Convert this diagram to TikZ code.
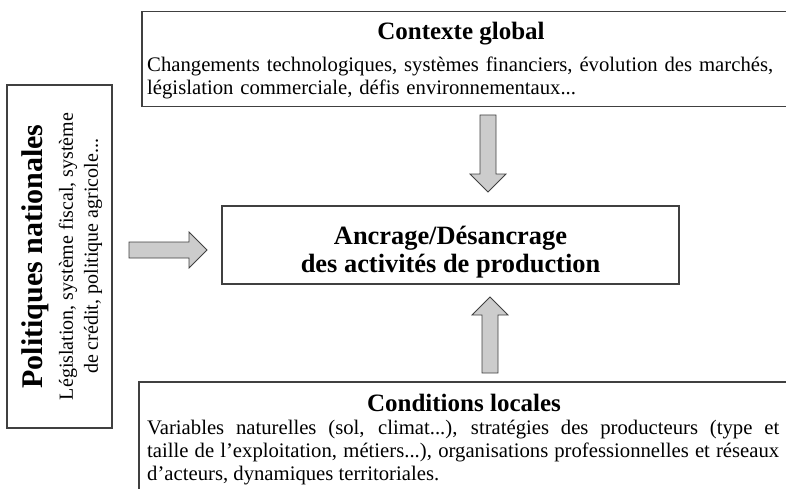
\documentclass[tikz,border=0pt]{standalone}
\usepackage{fontspec}
\setmainfont{Liberation Serif}
\usetikzlibrary{positioning,calc}

\begin{document}
\begin{tikzpicture}[x=1pt,y=-1pt,frame/.style={draw=black!75,line width=1.5pt,inner sep=0pt},titre/.style={font=\fontsize{25}{28}\selectfont\bfseries,inner sep=0pt},texte/.style={font=\fontsize{20.7}{23}\selectfont,inner sep=0pt},fleche/.style={fill=black!20,draw=black!75,line width=0.8pt,to path={($(\tikztotarget)!\al!(\tikztostart)$) coordinate (fh) ($(\tikztostart)!\aw!90:(\tikztotarget)$) -- ($(fh)!\aw!-90:(\tikztostart)$) -- ($(fh)!\ah!-90:(\tikztostart)$) -- (\tikztotarget) -- ($(fh)!\ah!90:(\tikztostart)$) -- ($(fh)!\aw!90:(\tikztostart)$) -- ($(\tikztostart)!\aw!-90:(\tikztotarget)$) -- cycle}}]
\def\aw{8pt};
\def\ah{18pt};
\def\al{18pt};

\clip[use as bounding box] (0,0) rectangle (786,489);

% contexte global
\node[frame,anchor=north west,minimum width=700,minimum height=95] (glob) at (141,11) {};
\node[titre,anchor=base] (globtitre) at (461,40) {Contexte global};
\node[texte,text width=660,align=left,anchor=north west] (globtexte) at (147,57) {Changements technologiques, systèmes financiers, évolution des marchés,\\législation commerciale, défis environnementaux...};

% politiques nationales
\node[frame,minimum width=105,minimum height=343] (pol) at (59.5,256.5) {};
\node[rotate=90,align=center,inner sep=0pt,font=\fontsize{20}{25}\selectfont] (poltexte) at ([xshift=2.5]pol.center) {{\fontsize{30}{30}\selectfont\bfseries Politiques nationales}\\[5pt]Législation, système fiscal, système\\de crédit, politique agricole...};

% ancrage
\node[frame,minimum width=457,minimum height=78] (ancrage) at (450.5,245) {};
\node[align=center,inner sep=0pt,font=\fontsize{26.4}{28}\selectfont\bfseries] (ancragetexte) at ([yshift=-7]ancrage.center) {Ancrage/Désancrage\\des activités de production};

% conditions locales
\node[frame,anchor=north west,minimum width=700,minimum height=150] (cond) at (138,381) {};
\node[titre,anchor=base] (condtitre) at (464,411) {Conditions locales};
\node[texte,text width=632,align=justify,anchor=north west] (condtexte) at (147,420) {Variables naturelles (sol, climat...), stratégies des producteurs (type et\linebreak taille de l’exploitation, métiers...), organisations professionnelles et réseaux\linebreak d’acteurs, dynamiques territoriales.};

\coordinate (pa) at (129,250);
\coordinate (pb) at (207,250);
\coordinate (ga) at (488,115);
\coordinate (gb) at (488,192);
\coordinate (ca) at (490,373);
\coordinate (cb) at (490,297);
\draw[fleche] (pa) to (pb);
\draw[fleche] (ga) to (gb);
\draw[fleche] (ca) to (cb);
\end{tikzpicture}
\end{document}
